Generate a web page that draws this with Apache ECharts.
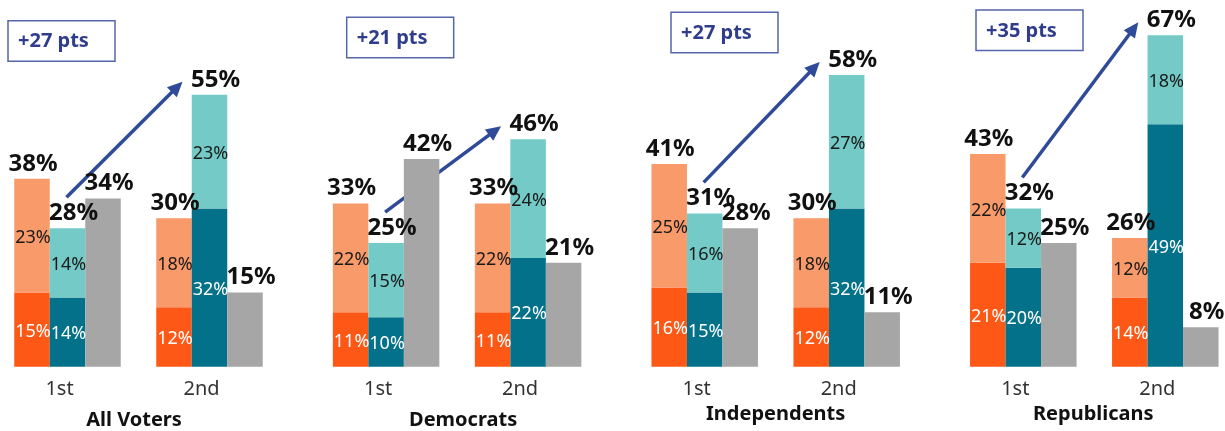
<!DOCTYPE html>
<html><head><meta charset="utf-8">
<script src="https://cdn.jsdelivr.net/npm/echarts/dist/echarts.min.js"></script>
<style>html,body{margin:0;padding:0;background:#fff}#c{width:1225px;height:431px}</style>
</head><body><div id="c"></div>
<script>
// ---- data ----
const panels = ['All Voters', 'Democrats', 'Independents', 'Republicans'];
const rounds = ['1st', '2nd'];
const orangeLow  = [[15, 12], [11, 11], [16, 12], [21, 14]];
const orangeHigh = [[23, 18], [22, 22], [25, 18], [22, 12]];
const orangeTotal = [[38, 30], [33, 33], [41, 30], [43, 26]];
const tealLow  = [[14, 32], [10, 22], [15, 32], [20, 49]];
const tealHigh = [[14, 23], [15, 24], [16, 27], [12, 18]];
const tealTotal = [[28, 55], [25, 46], [31, 58], [32, 67]];
const grayVals = [[34, 15], [42, 21], [28, 11], [25, 8]];
const changeLabels = ['+27 pts', '+21 pts', '+27 pts', '+35 pts'];

// ---- layout / style ----
const FONT = 'Noto Sans';
const COL = {oLow: '#FD5816', oHigh: '#F99A6B', tLow: '#03718A', tHigh: '#74CAC6', gray: '#A6A6A6'};
const gridLefts = [-3.5, 315.1, 633.7, 952.3];
const titleShift = [-4.5, 6, 0, -1];
const titleGap = [44, 44, 37, 35];
const boxPos = [[8, 20.7], [346.7, 17.3], [671, 12.3], [976, 10]];
const BW = 35.5;

const chart = echarts.init(document.getElementById('c'), null, {renderer: 'canvas'});
const grid = [], xAxis = [], yAxis = [], series = [];

function segSeries(i, stackKey, data, color, labelColor) {
  return {
    type: 'bar', xAxisIndex: i, yAxisIndex: i, stack: stackKey + i, stackStrategy: 'all',
    barWidth: BW, barGap: '0%', data: data,
    itemStyle: {color: color},
    label: {show: true, position: 'inside', formatter: '{c}%', color: labelColor,
            fontSize: 18, fontFamily: FONT, offset: [1, 2]},
    emphasis: {disabled: true}, silent: true
  };
}
function topSeries(i, stackKey, totals, dx) {
  return {
    type: 'bar', xAxisIndex: i, yAxisIndex: i, stack: stackKey + i, stackStrategy: 'all',
    barWidth: BW, barGap: '0%', data: [0, 0],
    itemStyle: {color: 'rgba(0,0,0,0)'},
    label: {show: true, position: 'top', distance: 3, offset: [dx, 0],
            formatter: p => totals[p.dataIndex] + '%',
            color: '#111', fontSize: 24, fontWeight: 'bold', fontFamily: FONT},
    emphasis: {disabled: true}, silent: true
  };
}

panels.forEach((name, i) => {
  grid.push({left: gridLefts[i], width: 284, top: 20.5, height: 346.2,
             containLabel: false, outerBoundsMode: 'none'});
  xAxis.push({
    type: 'category', gridIndex: i, data: rounds,
    axisLine: {show: false}, axisTick: {show: false},
    axisLabel: {fontSize: 20, color: '#333', fontFamily: FONT, margin: 13, padding: [0, 16, 0, 0]},
    name: name, nameLocation: 'middle', nameGap: titleGap[i],
    nameTextStyle: {fontSize: 20, fontWeight: 'bold', color: '#111', fontFamily: FONT,
                    padding: titleShift[i] < 0 ? [0, -2 * titleShift[i], 0, 0] : [0, 0, 0, 2 * titleShift[i]]}
  });
  yAxis.push({type: 'value', gridIndex: i, min: 0, max: 70, show: false, splitLine: {show: false}});

  series.push(segSeries(i, 'o', orangeLow[i], COL.oLow, '#fff'));
  series.push(segSeries(i, 'o', orangeHigh[i], COL.oHigh, '#1a1a1a'));
  series.push(topSeries(i, 'o', orangeTotal[i], 1));
  series.push(segSeries(i, 't', tealLow[i], COL.tLow, '#fff'));
  series.push(segSeries(i, 't', tealHigh[i], COL.tHigh, '#1a1a1a'));
  series.push(topSeries(i, 't', tealTotal[i], 6));
  series.push({
    type: 'bar', xAxisIndex: i, yAxisIndex: i, stack: 'g' + i,
    barWidth: BW, barGap: '0%', data: grayVals[i],
    itemStyle: {color: COL.gray},
    label: {show: true, position: 'top', distance: 3, offset: [6, 0], formatter: '{c}%',
            color: '#111', fontSize: 24, fontWeight: 'bold', fontFamily: FONT},
    emphasis: {disabled: true}, silent: true
  });
});

chart.setOption({
  animation: false, backgroundColor: '#fff',
  grid, xAxis, yAxis, series
});

// ---- annotations: change boxes and arrows ----
const graphic = [];
panels.forEach((name, i) => {
  const [bx, by] = boxPos[i];
  graphic.push({type: 'rect', shape: {x: bx, y: by, width: 107, height: 40.5},
    style: {fill: '#fff', stroke: '#5666AA', lineWidth: 1.5}, silent: true});
  graphic.push({type: 'text', x: bx + 10, y: by + 21,
    style: {text: changeLabels[i], fontSize: 20, fontWeight: 'bold', fontFamily: FONT,
            fill: '#2F3D8C', verticalAlign: 'middle', align: 'left'}, silent: true});

  const t1 = tealLow[i][0] + tealHigh[i][0];
  const t2 = tealLow[i][1] + tealHigh[i][1];
  const p1 = chart.convertToPixel({xAxisIndex: i, yAxisIndex: i}, [0, t1]);
  const p2 = chart.convertToPixel({xAxisIndex: i, yAxisIndex: i}, [1, t2]);
  const sx = p1[0] - 1, sy = p1[1] - 31;
  const ex = p2[0] - 27, ey = p2[1] - 13;
  const len = Math.hypot(ex - sx, ey - sy);
  const ux = (ex - sx) / len, uy = (ey - sy) / len;
  const hl = 15, hw = 7;
  const bxh = ex - ux * hl, byh = ey - uy * hl;
  graphic.push({type: 'line', shape: {x1: sx, y1: sy, x2: bxh + ux * 2, y2: byh + uy * 2},
    style: {stroke: '#2F4A98', lineWidth: 3.5}, silent: true});
  graphic.push({type: 'polygon', shape: {points: [[ex, ey], [bxh - uy * hw, byh + ux * hw], [bxh + uy * hw, byh - ux * hw]]},
    style: {fill: '#2F4A98'}, silent: true});
});
chart.setOption({graphic});
</script></body></html>
